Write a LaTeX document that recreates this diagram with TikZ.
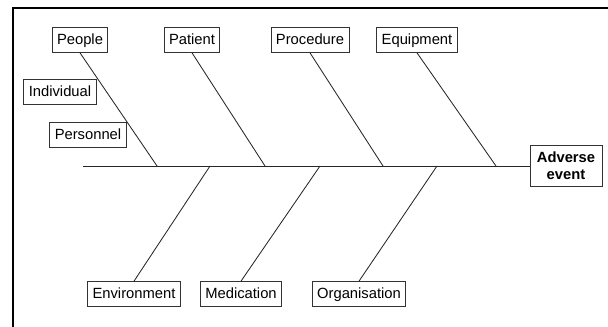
\documentclass[tikz,border=0pt]{standalone}
\usepackage{fontspec}
\setmainfont{Liberation Sans}
\usepackage{tikz}
\usetikzlibrary{positioning, calc}

\begin{document}
\begin{tikzpicture}[
        x=0.025cm, y=-0.025cm,
        cause/.style={
            rectangle,
            draw=black!80,
            fill=white,
            line width=0.6pt,
            minimum height=0.62cm,
            inner xsep=3.5pt,
            text height=1.6ex,
            text depth=0.45ex,
            font=\fontsize{10.5}{12}\selectfont
        },
        effect/.style={
            cause,
            align=center,
            text height=,
            text depth=,
            minimum width=1.8cm,
            minimum height=1.02cm,
            font=\fontsize{10.5}{12}\selectfont\bfseries
        },
        bone/.style={
            black!85,
            line width=0.6pt
        }
    ]

    \useasboundingbox (0,0) rectangle (608,327);

    % Frame
    \draw[line width=1.5pt] (13,327) -- (13,8) -- (608,8);

    % Head
    \node[effect] (adverse) at (566,166) {Adverse\\event};

    % Top causes
    \node[cause] (people) at (80,40) {People};
    \node[cause] (patient) at (192,40) {Patient};
    \node[cause] (procedure) at (310,40) {Procedure};
    \node[cause] (equipment) at (417,40) {Equipment};

    % Sub-causes of people
    \node[cause] (individual) at (60,92) {Individual};
    \node[cause] (personnel) at (88,135) {Personnel};

    % Bottom causes
    \node[cause] (environment) at (134,294) {Environment};
    \node[cause] (medication) at (241,294) {Medication};
    \node[cause] (organisation) at (359,294) {Organisation};

    % Points on the spine
    \coordinate (tail) at (83,166);
    \coordinate (s1) at (157,166);
    \coordinate (s2) at (265,166);
    \coordinate (s3) at (383,166);
    \coordinate (s4) at (496,166);
    \coordinate (s5) at (210,166);
    \coordinate (s6) at (320,166);
    \coordinate (s7) at (437,166);

    % Spine
    \draw[bone] (tail) -- (adverse.west);

    % Bones
    \draw[bone] (people.south) -- (s1);
    \draw[bone] (patient.south) -- (s2);
    \draw[bone] (procedure.south) -- (s3);
    \draw[bone] (equipment.south) -- (s4);
    \draw[bone] (environment.north) -- (s5);
    \draw[bone] (medication.north) -- (s6);
    \draw[bone] (organisation.north) -- (s7);

\end{tikzpicture}
\end{document}
